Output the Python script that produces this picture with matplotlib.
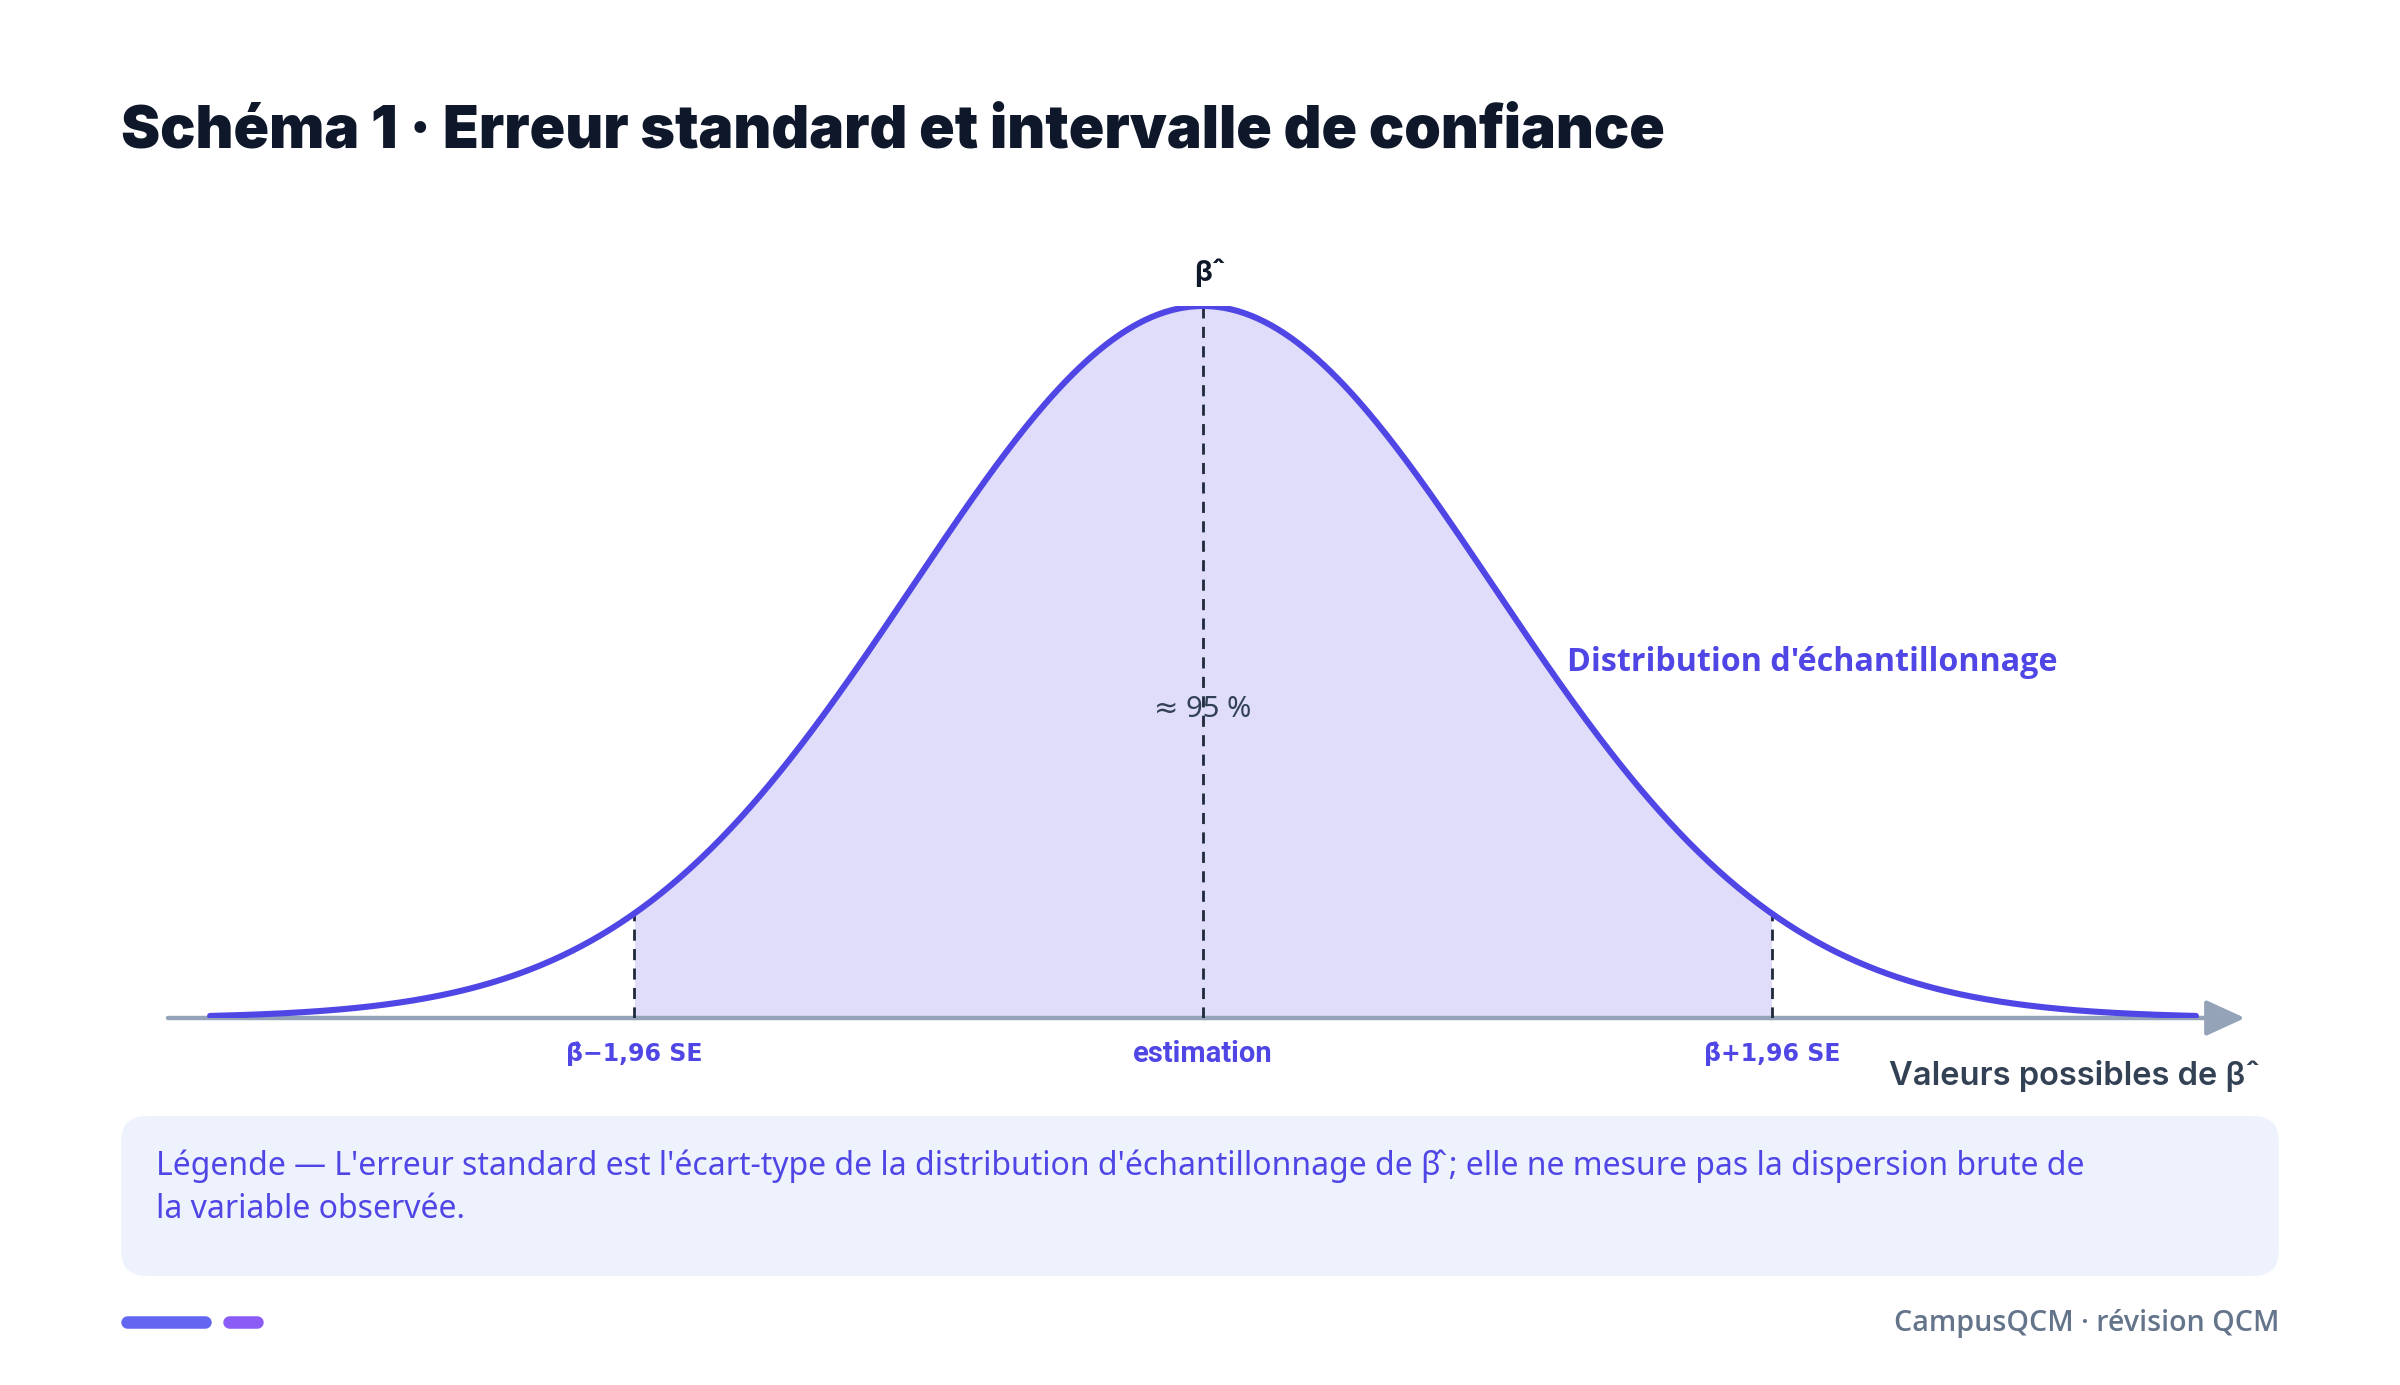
import numpy as np
import matplotlib
matplotlib.use("Agg")
import matplotlib.pyplot as plt
from matplotlib.patches import FancyBboxPatch

# --- données du schéma (unités : erreur standard, estimation centrée en 0) ---
estimation = 0.0
se = 1.0
z_95 = 1.96
curve_span = 3.42            # étendue de la courbe de chaque côté (en SE)
axis_range = (-3.565, 3.589)  # étendue de l'axe horizontal
tick_labels = ["β\u0302\u22121,96 SE", "estimation", "β\u0302+1,96 SE"]
coverage_label = "≈ 95 %"

title = "Schéma 1 · Erreur standard et intervalle de confiance"
curve_label = "Distribution d'échantillonnage"
xlabel = "Valeurs possibles de β\u0302"
legend_lines = [
    "Légende — L'erreur standard est l'écart-type de la distribution d'échantillonnage de β\u0302 ; elle ne mesure pas la dispersion brute de",
    "la variable observée.",
]
footer = "CampusQCM · révision QCM"

INDIGO = "#4f46e5"
DARK = "#0f172a"
SLATE = "#334155"
AXIS = "#94a3b8"

W, H = 2400, 1385
plt.rcParams['font.family'] = ['Noto Sans', 'DejaVu Sans']
OPEN = ['Open Sans', 'DejaVu Sans']
INTER = ['Inter', 'DejaVu Sans']
ROBOTO = ['Roboto', 'DejaVu Sans']

fig = plt.figure(figsize=(W / 100, H / 100), dpi=100)
fig.patch.set_facecolor("white")

# calque en pixels pour les décorations (boîte de légende, pastilles)
bg = fig.add_axes([0, 0, 1, 1], zorder=0)
bg.set_xlim(0, W)
bg.set_ylim(H, 0)
bg.axis("off")

def normal_pdf(x, mu, s):
    return np.exp(-0.5 * ((x - mu) / s) ** 2) / (s * np.sqrt(2 * np.pi))

x = np.linspace(estimation - curve_span * se, estimation + curve_span * se, 600)
y = normal_pdf(x, estimation, se)
peak = normal_pdf(estimation, estimation, se)

ax = fig.add_axes([168 / W, (H - 1018) / H, (2245 - 168) / W, 712 / H], zorder=2)
ax.set_facecolor("none")
ax.set_xlim(*axis_range)
ax.set_ylim(0, peak)
ax.axis("off")

# zone ~95 %
lo, hi = estimation - z_95 * se, estimation + z_95 * se
mask = (x >= lo) & (x <= hi)
ax.fill_between(x, 0, y, where=mask, color=INDIGO, alpha=0.18, linewidth=0, zorder=1)

# axe horizontal avec flèche
ax.annotate("", xy=(axis_range[1], 0), xytext=(axis_range[0], 0),
            arrowprops=dict(arrowstyle="-|>,head_length=1.2,head_width=0.55",
                            mutation_scale=20, color=AXIS, lw=3.2,
                            shrinkA=0, shrinkB=0), zorder=2)

# lignes pointillées
for xv in [lo, estimation, hi]:
    ax.plot([xv, xv], [0, normal_pdf(xv, estimation, se)], color="#1e293b",
            lw=2, dashes=(4, 3), zorder=3)

# courbe
ax.plot(x, y, color=INDIGO, lw=4.4, solid_capstyle="round", zorder=4)

# étiquettes sous l'axe (DejaVu pour que l'accent de β̂ s'affiche en gras)
for xv, lab in zip([lo, estimation, hi], tick_labels):
    has_hat = "\u0302" in lab
    ax.annotate(lab, xy=(xv, 0), xytext=(0, -26), textcoords="offset points",
                ha="center", va="center", fontsize=17 if has_hat else 21,
                fontweight="bold", color=INDIGO,
                family=['DejaVu Sans'] if has_hat else ROBOTO,
                annotation_clip=False)

ax.annotate("β\u0302", xy=(estimation, peak), xytext=(0, 24), textcoords="offset points",
            ha="center", va="center", fontsize=21, fontweight="bold", color=DARK,
            family=INTER, annotation_clip=False)
ax.text(estimation, 0.4326 * peak, coverage_label, ha="center", va="center",
        fontsize=21, color=SLATE, zorder=5)
ax.text(1.254, 0.499 * peak, curve_label, ha="left", va="center",
        fontsize=23.2, fontweight="bold", color=INDIGO, family=OPEN)
ax.annotate(xlabel, xy=(axis_range[1], 0), xytext=(0, -42), textcoords="offset points",
            ha="right", va="center", fontsize=23.5, fontweight="semibold", color=SLATE,
            family=INTER, annotation_clip=False)

# titre
fig.text(121 / W, 1 - 148 / H, title, ha="left", va="baseline", fontsize=42.3,
         fontweight="black", color=DARK, family=INTER)

# boîte de légende
bg.add_patch(FancyBboxPatch((121, 1116), 2279 - 121, 1276 - 1116,
                            boxstyle="round,pad=0,rounding_size=26",
                            facecolor="#eef2fd", edgecolor="none"))
for i, line in enumerate(legend_lines):
    bg.text(156, 1166 + 44 * i, line, ha="left", va="center", fontsize=23, color=INDIGO)

# pied de page
bg.plot([127, 205], [1322, 1322], color="#6366f1", lw=9, solid_capstyle="round")
bg.plot([229, 257], [1322, 1322], color="#8b5cf6", lw=9, solid_capstyle="round")
bg.text(2279, 1324, footer, ha="right", va="center", fontsize=20.6,
        fontweight="semibold", color="#64748b", family=OPEN)

fig.savefig("out.png", dpi=100, facecolor="white")
